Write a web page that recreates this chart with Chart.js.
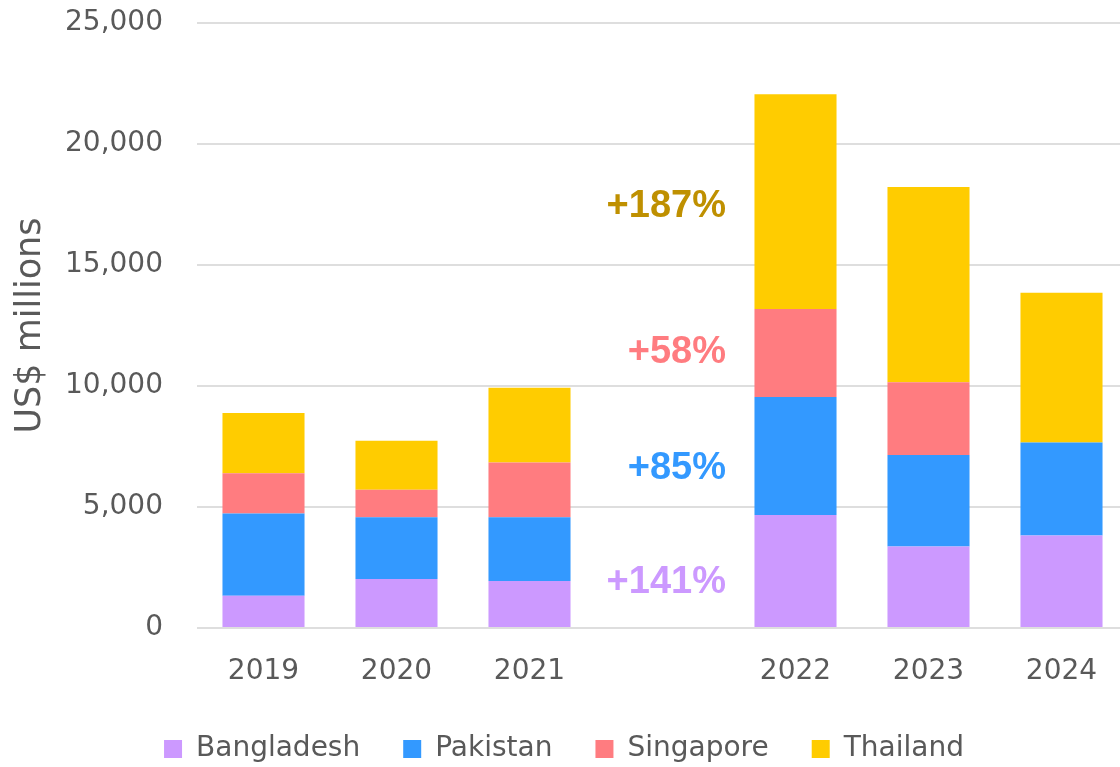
<!DOCTYPE html>
<html>
<head>
<meta charset="utf-8">
<script src="https://cdn.jsdelivr.net/npm/chart.js@4"></script>
<style>
  html, body { margin: 0; padding: 0; overflow: hidden; background: #fff; }
  .wrap { width: 1128px; height: 773px; position: relative; }
</style>
</head>
<body>
<div class="wrap"><canvas id="myChart"></canvas></div>
<script>
const years = ['2019', '2020', '2021', '', '2022', '2023', '2024']
const bangladesh = [1330, 2020, 1940, null, 4670, 3370, 3820]
const pakistan = [3400, 2560, 2640, null, 4880, 3780, 3850]
const singapore = [1660, 1130, 2260, null, 3630, 3010, 0]
const thailand = [2490, 2030, 3090, null, 8880, 8060, 6180]

// growth labels shown in the empty column
const growthText = ['+187%', '+58%', '+85%', '+141%']
const growthAt = [17400, 11400, 6600, 1900]
const growthColors = ['#BF9000', '#FF7C80', '#3399FF', '#CC99FF']

const gray = '#595959'
const ctx = document.getElementById('myChart').getContext('2d')

const growthLabels = {
    id: 'growthLabels',
    afterDatasetsDraw(chart) {
        const x = chart.scales.x
        const y = chart.scales.y
        const half = (x.right - x.left) / years.length / 2
        const right = x.getPixelForValue(3) + half - 3
        const c = chart.ctx
        c.save()
        c.font = 'bold 38px "Liberation Sans", Arial, sans-serif'
        c.textAlign = 'right'
        c.textBaseline = 'middle'
        growthText.forEach((t, i) => {
            c.fillStyle = growthColors[i]
            c.fillText(t, right, y.getPixelForValue(growthAt[i]))
        })
        c.restore()
    }
}

new Chart(ctx, {
    type: 'bar',
    data: {
        labels: years,
        datasets: [
            { label: 'Bangladesh', data: bangladesh, backgroundColor: '#CC99FF' },
            { label: 'Pakistan', data: pakistan, backgroundColor: '#3399FF' },
            { label: 'Singapore', data: singapore, backgroundColor: '#FF7C80' },
            { label: 'Thailand', data: thailand, backgroundColor: '#FFCC00' }
        ]
    },
    options: {
        responsive: true,
        maintainAspectRatio: false,
        animation: false,
        layout: { padding: { top: 23, left: 0, right: 0, bottom: 0 } },
        datasets: { bar: { categoryPercentage: 1, barPercentage: 0.617 } },
        plugins: {
            legend: {
                position: 'bottom',
                labels: {
                    boxWidth: 18,
                    boxHeight: 18,
                    padding: 43,
                    color: gray,
                    font: { family: '"DejaVu Sans"', size: 28 }
                }
            },
            tooltip: { enabled: false }
        },
        scales: {
            x: {
                stacked: true,
                grid: { display: false, drawTicks: false },
                border: { display: false },
                ticks: { color: gray, padding: 27, font: { family: '"DejaVu Sans"', size: 28 } },
                afterFit: (scale) => { scale.height = 64 }
            },
            y: {
                stacked: true,
                min: 0,
                max: 25000,
                grid: { color: '#dedede', lineWidth: 2, tickLength: 31, tickColor: 'transparent' },
                border: { display: false },
                ticks: {
                    stepSize: 5000,
                    padding: 3,
                    color: gray,
                    font: { family: '"DejaVu Sans"', size: 28 },
                    callback: (v) => v.toLocaleString('en-US')
                },
                title: {
                    display: true,
                    text: 'US$ millions',
                    color: gray,
                    padding: { top: 10, bottom: 0 },
                    font: { family: '"DejaVu Sans"', size: 35 }
                },
                afterFit: (scale) => { scale.width = 197 }
            }
        }
    },
    plugins: [growthLabels]
})
</script>
</body>
</html>
